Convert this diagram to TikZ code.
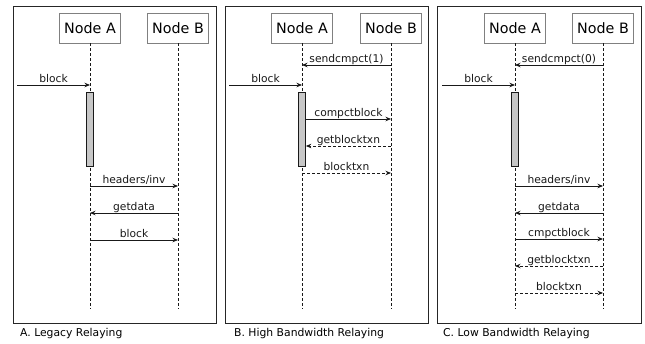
\documentclass[tikz,border=0pt]{standalone}
\usepackage{fontspec}
\setmainfont{DejaVu Sans}
\usetikzlibrary{arrows.meta}
\begin{document}
\begin{tikzpicture}[x=1pt,y=-1pt,
 frame/.style={draw=black!85, line width=0.9pt},
 actor/.style={draw=black!50, fill=white, line width=0.7pt, minimum height=30pt, inner xsep=5pt, font=\fontsize{14.3}{16}\selectfont},
 life/.style={draw=black!90, dash pattern=on 3pt off 2pt, line width=0.7pt},
 actbar/.style={draw=black!90, fill=black!22, minimum width=7pt, minimum height=74pt, inner sep=0pt, line width=0.7pt},
 msg/.style={draw=black!90, line width=0.85pt, -{Stealth[length=5.5pt,width=4.5pt]}},
 rmsg/.style={msg, dash pattern=on 3pt off 2pt},
 lbl/.style={midway, anchor=base, yshift=3pt, font=\fontsize{10.7}{12}\selectfont, inner sep=0pt, text=black!90},
 captext/.style={anchor=base west, font=\fontsize{10.8}{12}\selectfont, inner sep=0pt}]
\useasboundingbox (0,0) rectangle (645,343);
\fill[white] (0,0) rectangle (645,343);

% ---------- Panel A ----------
\draw[frame] (13,6) rectangle (216,323);
\node[actor] (aA) at (90,28) {Node A};
\node[actor] (aB) at (178,28) {Node B};
\coordinate (aAe) at (90,309);
\coordinate (aBe) at (178,309);
\draw[life] (aA.south) -- (aAe);
\draw[life] (aB.south) -- (aBe);
\node[actbar] (aBar) at (90,129) {};
\coordinate (aIn) at (17,85);
\draw[msg] (aIn) -- node[lbl]{block} (aA |- aIn);
\draw[msg] (aA |- 0,186) -- node[lbl]{headers/inv} (aB |- 0,186);
\draw[msg] (aB |- 0,213) -- node[lbl]{getdata} (aA |- 0,213);
\draw[msg] (aA |- 0,240) -- node[lbl]{block} (aB |- 0,240);
\node[captext] (capA) at (20,336.5) {A. Legacy Relaying};

% ---------- Panel B ----------
\draw[frame] (225,6) rectangle (428,323);
\node[actor] (bA) at (302,28) {Node A};
\node[actor] (bB) at (391,28) {Node B};
\coordinate (bAe) at (302,309);
\coordinate (bBe) at (391,309);
\draw[life] (bA.south) -- (bAe);
\draw[life] (bB.south) -- (bBe);
\node[actbar] (bBar) at (302,129) {};
\coordinate (bIn) at (229,85);
\draw[msg] (bB |- 0,65) -- node[lbl]{sendcmpct(1)} (bA |- 0,65);
\draw[msg] (bIn) -- node[lbl]{block} (bA |- bIn);
\draw[msg] (bBar.east |- 0,119) -- node[lbl]{compctblock} (bB |- 0,119);
\draw[rmsg] (bB |- 0,146) -- node[lbl]{getblocktxn} (bBar.east |- 0,146);
\draw[rmsg] (bA |- 0,173) -- node[lbl]{blocktxn} (bB |- 0,173);
\node[captext] (capB) at (234,336.5) {B. High Bandwidth Relaying};

% ---------- Panel C ----------
\draw[frame] (437,6) rectangle (641,323);
\node[actor] (cA) at (515,28) {Node A};
\node[actor] (cB) at (603,28) {Node B};
\coordinate (cAe) at (515,309);
\coordinate (cBe) at (603,309);
\draw[life] (cA.south) -- (cAe);
\draw[life] (cB.south) -- (cBe);
\node[actbar] (cBar) at (515,129) {};
\coordinate (cIn) at (442,85);
\draw[msg] (cB |- 0,65) -- node[lbl]{sendcmpct(0)} (cA |- 0,65);
\draw[msg] (cIn) -- node[lbl]{block} (cA |- cIn);
\draw[msg] (cA |- 0,186) -- node[lbl]{headers/inv} (cB |- 0,186);
\draw[msg] (cB |- 0,213) -- node[lbl]{getdata} (cA |- 0,213);
\draw[msg] (cA |- 0,239) -- node[lbl]{cmpctblock} (cB |- 0,239);
\draw[rmsg] (cB |- 0,266) -- node[lbl]{getblocktxn} (cA |- 0,266);
\draw[rmsg] (cA |- 0,293) -- node[lbl]{blocktxn} (cB |- 0,293);
\node[captext] (capC) at (443,336.5) {C. Low Bandwidth Relaying};
\end{tikzpicture}
\end{document}
